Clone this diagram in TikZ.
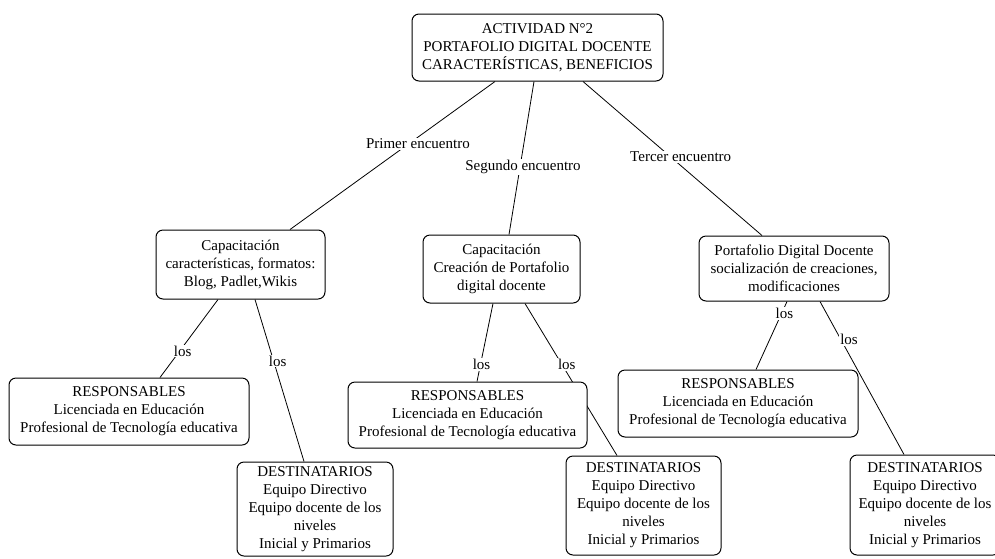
\documentclass[tikz,border=0pt]{standalone}
\usepackage{fontspec}
\setmainfont{Liberation Serif}
\pgfdeclarelayer{bg}
\pgfsetlayers{bg,main}
\begin{document}
\begin{tikzpicture}[x=1pt,y=-1pt,
  every node/.style={font=\fontsize{15}{18}\selectfont},
  box/.style={draw, rounded corners=7pt, fill=white, align=center, line width=1pt, inner sep=0pt},
  conn/.style={line width=0.8pt},
  lbl/.style={fill=white, inner sep=1pt}]
\useasboundingbox (0,0) rectangle (995,558);

\node[box, minimum width=251pt, minimum height=67pt] (top) at (537.5,47.5)
  {ACTIVIDAD N°2\\PORTAFOLIO DIGITAL DOCENTE\\CARACTERÍSTICAS, BENEFICIOS};

\node[box, minimum width=169pt, minimum height=69pt] (c1) at (240.5,264.5)
  {Capacitación\\características, formatos:\\Blog, Padlet,Wikis};
\node[box, minimum width=157pt, minimum height=68pt] (c2) at (501.5,269)
  {Capacitación\\Creación de Portafolio\\digital docente};
\node[box, minimum width=190pt, minimum height=65pt] (c3) at (794,268.5)
  {Portafolio Digital Docente\\socialización de creaciones,\\modificaciones};

\node[box, minimum width=240pt, minimum height=67pt] (r1) at (129,411.5)
  {RESPONSABLES\\Licenciada en Educación\\Profesional de Tecnología educativa};
\node[box, minimum width=239pt, minimum height=66pt] (r2) at (467.5,415)
  {RESPONSABLES\\Licenciada en Educación\\Profesional de Tecnología educativa};
\node[box, minimum width=240pt, minimum height=67pt] (r3) at (738,403.5)
  {RESPONSABLES\\Licenciada en Educación\\Profesional de Tecnología educativa};

\node[box, minimum width=156pt, minimum height=94pt] (d1) at (315,509)
  {DESTINATARIOS\\Equipo Directivo\\Equipo docente de los\\niveles\\Inicial y Primarios};
\node[box, minimum width=155pt, minimum height=99pt] (d2) at (643.5,505.5)
  {DESTINATARIOS\\Equipo Directivo\\Equipo docente de los\\niveles\\Inicial y Primarios};
\node[box, minimum width=150pt, minimum height=100pt] (d3) at (925,505)
  {DESTINATARIOS\\Equipo Directivo\\Equipo docente de los\\niveles\\Inicial y Primarios};

\begin{pgfonlayer}{bg}
\draw[conn] ([xshift=-42.5pt]top.south) -- ([xshift=49.5pt]c1.north)
  node[lbl, pos=0.42, xshift=9pt] {Primer encuentro};
\draw[conn] ([xshift=-3.5pt]top.south) -- ([xshift=7.5pt]c2.north)
  node[lbl, pos=0.56, xshift=3pt] {Segundo encuentro};
\draw[conn] ([xshift=45.5pt]top.south) -- ([xshift=-32pt]c3.north)
  node[lbl, pos=0.49, xshift=10pt] {Tercer encuentro};

\draw[conn] ([xshift=-22.5pt]c1.south) -- ([xshift=31pt]r1.north)
  node[lbl, pos=0.66, xshift=3pt] {los};
\draw[conn] ([xshift=14.5pt]c1.south) -- ([xshift=-11pt]d1.north)
  node[lbl, pos=0.38, xshift=4pt] {los};
\draw[conn] ([xshift=-8.5pt]c2.south) -- ([xshift=9.5pt]r2.north)
  node[lbl, pos=0.78, xshift=1pt] {los};
\draw[conn] ([xshift=23.5pt]c2.south) -- ([xshift=-26.5pt]d2.north)
  node[lbl, pos=0.40, xshift=5pt] {los};
\draw[conn] ([xshift=-7pt]c3.south) -- ([xshift=18pt]r3.north)
  node[lbl, pos=0.18, xshift=3pt] {los};
\draw[conn] ([xshift=26pt]c3.south) -- ([xshift=-21pt]d3.north)
  node[lbl, pos=0.25, xshift=8pt] {los};
\end{pgfonlayer}
\end{tikzpicture}
\end{document}
